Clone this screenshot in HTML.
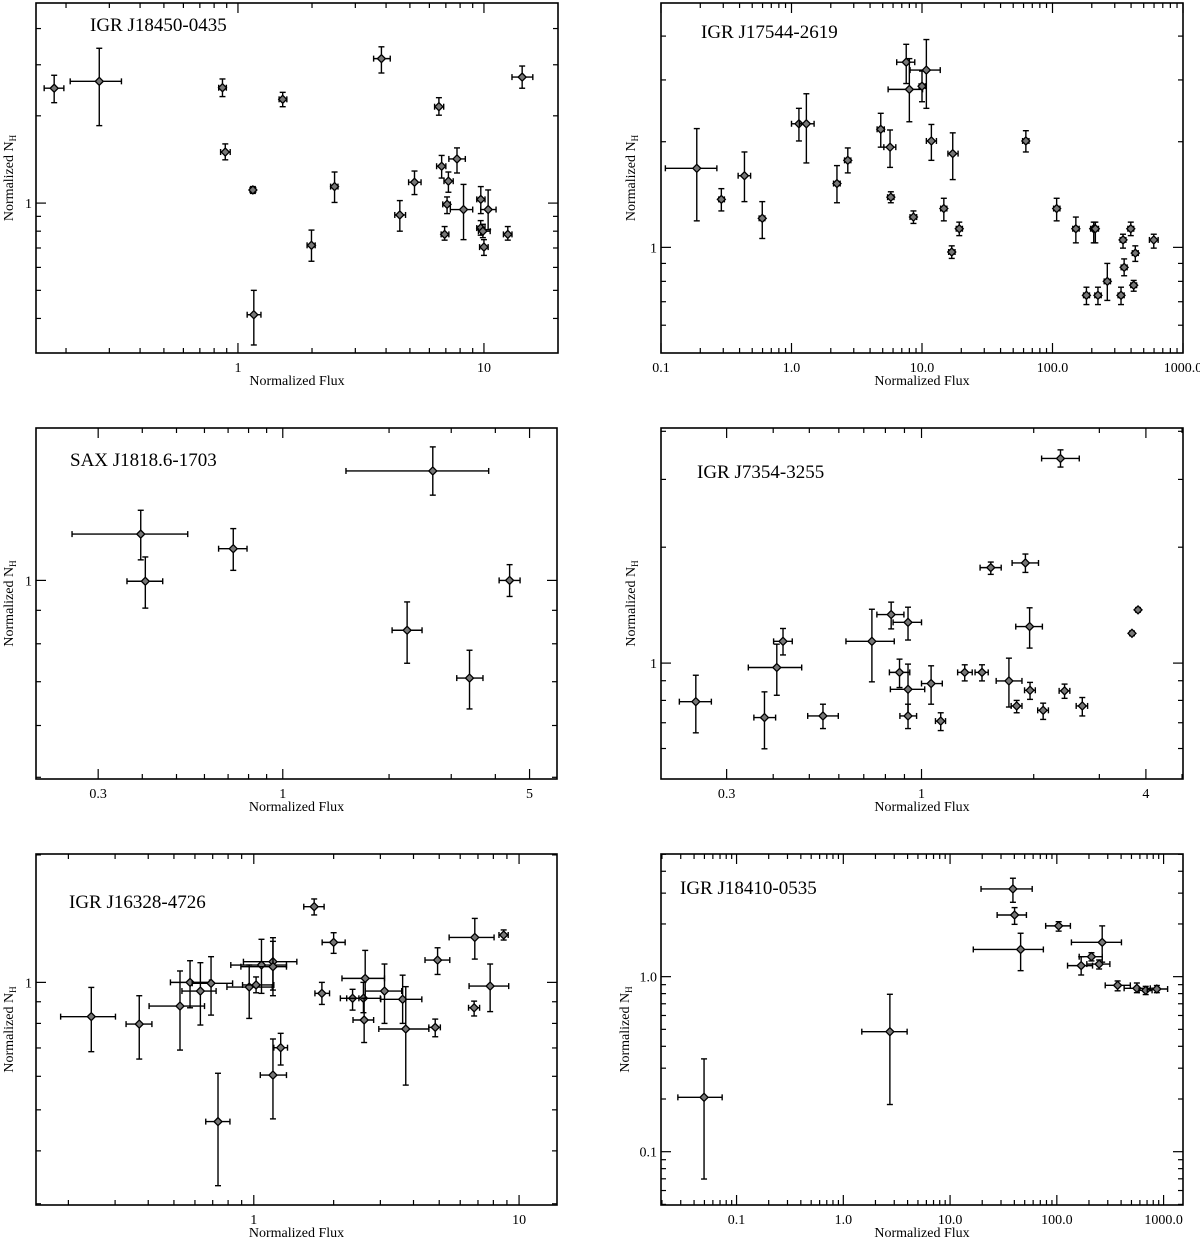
<!DOCTYPE html>
<html><head><meta charset="utf-8"><style>
body{margin:0;background:#fff}
svg{display:block}
text{font-family:"Liberation Serif",serif;fill:#000}
</style></head><body>
<svg id="chart" width="1200" height="1238" viewBox="0 0 1200 1238" xmlns="http://www.w3.org/2000/svg"></svg>
<script>
// ---- Panel 1: IGR J18450-0435
const p1X=[0.179,0.273,0.865,0.888,1.15,1.16,1.52,1.99,2.47,3.83,4.55,5.22,6.56,6.73,7.17,7.08,6.92,7.77,8.26,9.71,10.4,9.7,9.9,10.0,12.5,14.3];
const p1Y=[2.49,2.63,2.50,1.50,1.11,0.412,2.28,0.715,1.14,3.15,0.91,1.18,2.15,1.34,1.19,0.99,0.78,1.42,0.95,1.03,0.95,0.82,0.80,0.705,0.78,2.72];
const p1Xerr=[[0.163,0.196],[0.208,0.336],[0.835,0.897],[0.85,0.93],[1.12,1.18],[1.09,1.24],[1.47,1.58],[1.91,2.06],[2.38,2.55],[3.56,4.16],[4.34,4.80],[4.94,5.55],[6.3,6.86],[6.42,7.0],[6.88,7.5],[6.8,7.3],[6.7,7.2],[7.2,8.4],[7.3,9.0],[9.35,10.1],[9.71,11.2],[9.35,10.1],[9.5,10.6],[9.6,10.4],[12.0,13.0],[13.0,15.8]];
const p1Yerr=[[2.22,2.76],[1.85,3.42],[2.33,2.68],[1.41,1.60],[1.08,1.14],[0.324,0.50],[2.15,2.41],[0.63,0.807],[1.005,1.28],[2.81,3.46],[0.80,1.02],[1.07,1.29],[2.01,2.31],[1.22,1.46],[1.09,1.28],[0.92,1.05],[0.745,0.83],[1.27,1.55],[0.748,1.16],[0.92,1.14],[0.81,1.11],[0.775,0.87],[0.76,0.845],[0.66,0.748],[0.745,0.83],[2.49,2.97]];
// ---- Panel 2: IGR J17544-2619
const p2X=[0.188,0.29,0.436,0.597,1.14,1.30,2.23,2.70,4.83,5.69,5.77,7.57,8.0,10.0,10.8,8.6,11.8,14.7,17.2,16.9,19.3,62.5,107.6,151,207,213,182,223,263,335,347,354,398,431,419,597];
const p2Y=[1.68,1.37,1.60,1.21,2.25,2.25,1.52,1.77,2.17,1.93,1.39,3.37,2.82,2.88,3.20,1.22,2.01,1.29,1.85,0.97,1.13,2.01,1.29,1.13,1.13,1.13,0.73,0.73,0.80,0.73,1.05,0.877,1.13,0.963,0.78,1.05];
const p2Xerr=[[0.108,0.268],[0.277,0.306],[0.39,0.486],[0.565,0.625],[1.0,1.27],[1.15,1.49],[2.1,2.36],[2.55,2.85],[4.53,5.14],[5.1,6.3],[5.45,6.1],[6.4,8.8],[5.5,10.1],[9.5,10.6],[8.1,13.8],[8.1,9.1],[10.8,12.9],[13.9,15.5],[15.8,18.9],[16.0,17.9],[18.3,20.4],[59,66],[102,114],[143,160],[196,219],[202,225],[173,192],[211,236],[249,278],[318,354],[330,365],[336,373],[378,419],[409,454],[398,441],[553,645]];
const p2Yerr=[[1.19,2.18],[1.27,1.47],[1.35,1.87],[1.06,1.35],[2.01,2.49],[1.74,2.74],[1.34,1.71],[1.63,1.92],[1.93,2.41],[1.69,2.16],[1.34,1.44],[2.93,3.79],[2.28,3.45],[2.60,3.18],[2.49,3.91],[1.17,1.27],[1.77,2.24],[1.19,1.38],[1.56,2.12],[0.93,1.01],[1.08,1.18],[1.87,2.15],[1.19,1.38],[1.03,1.22],[1.03,1.18],[1.03,1.18],[0.687,0.77],[0.687,0.77],[0.706,0.90],[0.687,0.77],[0.995,1.09],[0.83,0.927],[1.08,1.18],[0.912,1.01],[0.75,0.805],[0.995,1.09]];
// ---- Panel 3: SAX J1818.6-1703
const p3X=[0.396,0.408,0.724,2.66,2.25,3.38,4.39];
const p3Y=[1.177,0.997,1.118,1.47,0.839,0.709,1.0];
const p3Xerr=[[0.253,0.538],[0.362,0.457],[0.658,0.792],[1.51,3.83],[2.04,2.48],[3.11,3.69],[4.10,4.70]];
const p3Yerr=[[1.075,1.28],[0.907,1.086],[1.036,1.2],[1.35,1.60],[0.747,0.927],[0.636,0.782],[0.945,1.057]];
// ---- Panel 4: IGR J7354-3255
const p4X=[0.248,0.379,0.409,0.425,0.544,0.736,0.829,0.92,0.873,0.92,0.92,1.061,1.126,1.306,1.453,1.534,1.716,1.80,1.90,1.95,1.955,2.12,2.36,2.42,2.70,3.67,3.81];
const p4Y=[0.794,0.722,0.974,1.139,0.729,1.139,1.337,1.276,0.946,0.855,0.729,0.885,0.707,0.946,0.946,1.77,0.899,0.774,1.82,1.244,0.85,0.754,3.40,0.847,0.774,1.195,1.375];
const p4Xerr=[[0.224,0.273],[0.355,0.406],[0.343,0.477],[0.401,0.45],[0.495,0.598],[0.627,0.845],[0.759,0.897],[0.839,1.0],[0.82,0.93],[0.825,1.02],[0.875,0.97],[1.0,1.137],[1.09,1.16],[1.25,1.368],[1.392,1.51],[1.436,1.636],[1.586,1.86],[1.74,1.86],[1.75,2.06],[1.79,2.11],[1.89,2.02],[2.05,2.19],[2.10,2.65],[2.34,2.5],[2.60,2.79],[3.62,3.72],[3.76,3.86]];
const p4Yerr=[[0.659,0.93],[0.599,0.842],[0.825,1.12],[1.05,1.23],[0.676,0.782],[0.894,1.38],[1.227,1.44],[1.148,1.397],[0.864,1.024],[0.736,0.994],[0.676,0.782],[0.782,0.984],[0.668,0.743],[0.899,0.99],[0.899,0.99],[1.70,1.83],[0.769,1.03],[0.743,0.80],[1.72,1.92],[1.094,1.392],[0.805,0.891],[0.714,0.787],[3.23,3.58],[0.81,0.882],[0.729,0.814],[1.18,1.21],[1.36,1.39]];
// ---- Panel 5: IGR J16328-4726
const p5X=[0.244,0.370,0.527,0.575,0.629,0.69,0.961,1.02,1.069,1.181,1.181,1.263,1.181,0.733,1.689,2.0,1.806,2.357,2.59,2.63,2.606,3.11,3.64,3.74,4.83,4.93,6.77,6.81,7.78,8.75];
const p5Y=[0.83,0.797,0.879,1.0,0.954,0.995,0.975,0.986,1.099,1.119,1.089,0.701,0.604,0.469,1.509,1.243,0.942,0.917,0.917,1.022,0.815,0.954,0.912,0.776,0.783,1.129,0.871,1.277,0.98,1.294];
const p5Xerr=[[0.187,0.301],[0.330,0.413],[0.403,0.652],[0.485,0.681],[0.536,0.721],[0.586,0.832],[0.792,1.174],[0.907,1.19],[0.819,1.328],[0.914,1.453],[0.894,1.328],[1.19,1.34],[1.058,1.328],[0.659,0.813],[1.543,1.841],[1.81,2.21],[1.70,1.93],[2.24,2.49],[2.12,3.0],[2.15,3.11],[2.366,2.83],[2.63,3.61],[3.01,4.30],[2.96,4.57],[4.57,5.05],[4.42,5.48],[6.45,7.1],[5.45,8.05],[6.48,9.14],[8.4,9.1]];
const p5Yerr=[[0.686,0.973],[0.659,0.93],[0.692,1.064],[0.871,1.125],[0.793,1.113],[0.837,1.15],[0.822,1.099],[0.945,1.03],[0.942,1.264],[0.959,1.275],[0.93,1.25],[0.638,0.758],[0.476,0.735],[0.331,0.61],[1.443,1.574],[1.171,1.31],[0.887,1.0],[0.86,0.963],[0.848,1.0],[0.917,1.19],[0.721,0.917],[0.80,1.105],[0.80,1.04],[0.572,0.977],[0.744,0.819],[1.044,1.207],[0.833,0.903],[1.135,1.416],[0.853,1.105],[1.259,1.33]];
// ---- Panel 6: IGR J18410-0535
const p6X=[0.0496,2.73,38.8,40.2,45.8,104,266,211,169,249,371,562,680,865];
const p6Y=[0.2044,0.485,3.17,2.25,1.43,1.95,1.57,1.30,1.156,1.18,0.892,0.858,0.835,0.85];
const p6Xerr=[[0.0282,0.0733],[1.49,3.96],[19.5,58.8],[27.6,51.9],[16.5,74.8],[78.6,134],[137,403],[162,266],[126,216],[191,314],[284,488],[427,751],[590,780],[703,1091]];
const p6Yerr=[[0.0698,0.339],[0.186,0.793],[2.66,3.65],[1.99,2.48],[1.082,1.77],[1.82,2.06],[1.21,1.95],[1.23,1.37],[1.022,1.30],[1.106,1.245],[0.83,0.945],[0.81,0.92],[0.79,0.88],[0.81,0.89]];

// tick label arrays
const p1XTicks=[1,10], p1XLabels=["1","10"], p1YTicks=[1], p1YLabels=["1"];
const p2XTicks=[0.1,1,10,100,1000], p2XLabels=["0.1","1.0","10.0","100.0","1000.0"], p2YTicks=[1], p2YLabels=["1"];
const p3XTicks=[0.3,1,5], p3XLabels=["0.3","1","5"], p3YTicks=[1], p3YLabels=["1"];
const p4XTicks=[0.3,1,4], p4XLabels=["0.3","1","4"], p4YTicks=[1], p4YLabels=["1"];
const p5XTicks=[1,10], p5XLabels=["1","10"], p5YTicks=[1], p5YLabels=["1"];
const p6XTicks=[0.1,1,10,100,1000], p6XLabels=["0.1","1.0","10.0","100.0","1000.0"], p6YTicks=[0.1,1], p6YLabels=["0.1","1.0"];

const NS="http://www.w3.org/2000/svg";
const svg=document.getElementById('chart');
function mk(tag,attrs,parent){const e=document.createElementNS(NS,tag);for(const k in attrs)e.setAttribute(k,attrs[k]);(parent||svg).appendChild(e);return e;}
function minorVals(lo,hi){const out=[];for(let d=Math.floor(Math.log10(lo));d<=Math.ceil(Math.log10(hi));d++){for(let m=1;m<10;m++){const v=m*Math.pow(10,d);if(v>lo*1.0001&&v<hi*0.9999)out.push(v);}}return out;}

function drawPanel(id,c,X,Y,Xe,Ye,xt,xl,yt,yl){
  const g=mk('g',{});
  
  
  const L=c.box[0],R=c.box[1],T=c.box[2],B=c.box[3];
  const lx0=Math.log10(c.x[0]),lx1=Math.log10(c.x[1]),ly0=Math.log10(c.y[0]),ly1=Math.log10(c.y[1]);
  const sx=v=>L+(Math.log10(v)-lx0)/(lx1-lx0)*(R-L);
  const sy=v=>B-(Math.log10(v)-ly0)/(ly1-ly0)*(B-T);
  const frame=mk('rect',{x:L,y:T,width:R-L,height:B-T,fill:'none',stroke:'#000','stroke-width':1.6},g);
  
  
  const ticks=mk('g',{stroke:'#000','stroke-width':1.2},g);
  
  
  const isMaj=(v,arr)=>arr.some(a=>Math.abs(a-v)/v<1e-6);
  const xs=minorVals(c.x[0],c.x[1]).concat(xt.filter(v=>!minorVals(c.x[0],c.x[1]).some(a=>Math.abs(a-v)/v<1e-6)));
  xs.forEach(v=>{const px=sx(v);const len=isMaj(v,xt)?10:5;
    mk('line',{x1:px,x2:px,y1:B,y2:B-len},ticks);mk('line',{x1:px,x2:px,y1:T,y2:T+len},ticks);});
  const ys=minorVals(c.y[0],c.y[1]);
  ys.forEach(v=>{const py=sy(v);const len=isMaj(v,yt)?10:5;
    mk('line',{x1:L,x2:L+len,y1:py,y2:py},ticks);mk('line',{x1:R,x2:R-len,y1:py,y2:py},ticks);});
  xt.forEach((v,i)=>{const t=mk('text',{x:sx(v),y:B+19,'text-anchor':'middle','font-size':14},g);t.textContent=xl[i];
    
    });
  yt.forEach((v,i)=>{const t=mk('text',{x:L-4,y:sy(v)+5,'text-anchor':'end','font-size':14},g);t.textContent=yl[i];
    
    });
  const xlab=mk('text',{x:(L+R)/2,y:B+32,'text-anchor':'middle','font-size':14},g);xlab.textContent='Normalized Flux';
  
  
  const yx=c.ylx, yy=(T+B)/2;
  const ylab=mk('text',{x:yx,y:yy,'text-anchor':'middle','font-size':14,transform:`rotate(-90 ${yx} ${yy})`},g);
  
  
  ylab.appendChild(document.createTextNode('Normalized N'));
  const sub=mk('tspan',{'font-size':9,dy:3},ylab);sub.textContent='H';
  const title=mk('text',{x:c.title[0],y:c.title[1],'font-size':19},g);title.textContent=c.name;
  
  
  const pts=mk('g',{stroke:'#000','stroke-width':1.4},g);
  
  
  X.forEach((xv,i)=>{
    const px=sx(xv),py=sy(Y[i]);
    const x0=sx(Xe[i][0]),x1=sx(Xe[i][1]),y0=sy(Ye[i][0]),y1=sy(Ye[i][1]);
    const eb=mk('g',{},pts);
    
    
    mk('line',{x1:x0,x2:x1,y1:py,y2:py},eb);
    mk('line',{x1:x0,x2:x0,y1:py-3,y2:py+3},eb);
    mk('line',{x1:x1,x2:x1,y1:py-3,y2:py+3},eb);
    mk('line',{x1:px,x2:px,y1:y0,y2:y1},eb);
    mk('line',{x1:px-3,x2:px+3,y1:y0,y2:y0},eb);
    mk('line',{x1:px-3,x2:px+3,y1:y1,y2:y1},eb);
    mk('path',{d:`M${px-4},${py}L${px},${py-4}L${px+4},${py}L${px},${py+4}Z`,fill:'#777','stroke-width':1.3},eb);
  });
}
drawPanel('panel-igr-j18450',{box:[36,558,3,353],x:[0.151,20],y:[0.304,4.9],ylx:13,title:[90,31],name:'IGR J18450-0435'},p1X,p1Y,p1Xerr,p1Yerr,p1XTicks,p1XLabels,p1YTicks,p1YLabels);
drawPanel('panel-igr-j17544',{box:[661,1183,3,353],x:[0.1,1000],y:[0.5,4.97],ylx:635,title:[701,38],name:'IGR J17544-2619'},p2X,p2Y,p2Xerr,p2Yerr,p2XTicks,p2XLabels,p2YTicks,p2YLabels);
drawPanel('panel-sax-j1818',{box:[36,557,428,779],x:[0.2,5.98],y:[0.497,1.71],ylx:13,title:[70,466],name:'SAX J1818.6-1703'},p3X,p3Y,p3Xerr,p3Yerr,p3XTicks,p3XLabels,p3YTicks,p3YLabels);
drawPanel('panel-igr-j7354',{box:[661,1183,428,779],x:[0.2,5.03],y:[0.5,4.08],ylx:635,title:[697,478],name:'IGR J7354-3255'},p4X,p4Y,p4Xerr,p4Yerr,p4XTicks,p4XLabels,p4YTicks,p4YLabels);
drawPanel('panel-igr-j16328',{box:[36,557,854,1205],x:[0.151,13.9],y:[0.298,2.01],ylx:13,title:[69,908],name:'IGR J16328-4726'},p5X,p5Y,p5Xerr,p5Yerr,p5XTicks,p5XLabels,p5YTicks,p5YLabels);
drawPanel('panel-igr-j18410',{box:[661,1183,854,1205],x:[0.0196,1520],y:[0.0496,5.02],ylx:629,title:[680,894],name:'IGR J18410-0535'},p6X,p6Y,p6Xerr,p6Yerr,p6XTicks,p6XLabels,p6YTicks,p6YLabels);
</script>
</body></html>
